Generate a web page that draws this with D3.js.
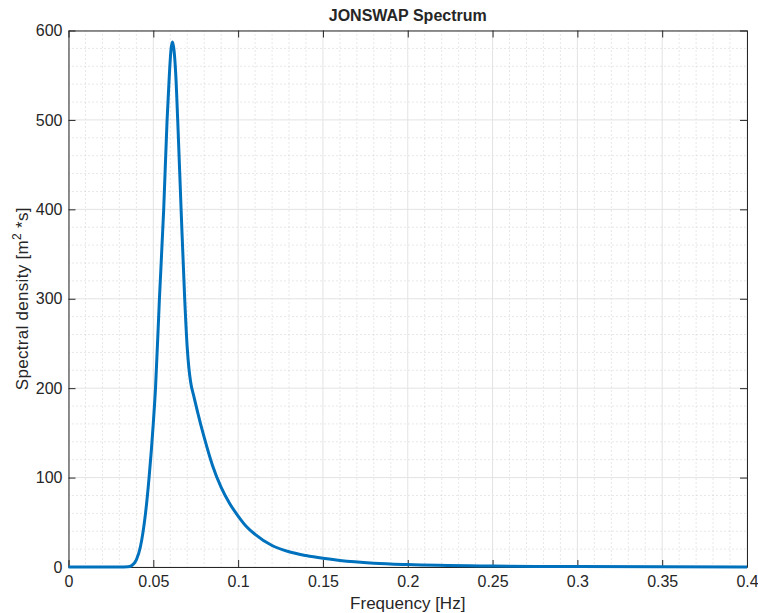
<!DOCTYPE html>
<html>
<head>
<meta charset="utf-8">
<script src="https://cdn.jsdelivr.net/npm/d3@7"></script>
<style>
  body { margin: 0; background: #fff; }
  svg text { font-family: "Liberation Sans", Arial, Helvetica, sans-serif; fill: #262626; }
</style>
</head>
<body>
<div id="chart"></div>
<script>
// values
var freq = [0, 0.01, 0.02, 0.03, 0.035, 0.0375, 0.040, 0.0424, 0.0454, 0.0475, 0.050, 0.0513, 0.0536,
  0.0561, 0.0581, 0.0595, 0.0604, 0.0613, 0.0622, 0.0632, 0.0644, 0.0664, 0.0685, 0.070, 0.071, 0.072,
  0.074, 0.076, 0.078, 0.080, 0.085, 0.090, 0.095, 0.100, 0.105, 0.110, 0.120, 0.130, 0.140, 0.150,
  0.160, 0.180, 0.200, 0.250, 0.300, 0.350, 0.400];
var density = [0, 0, 0, 0, 0.2, 2, 8, 22.7, 60, 100, 161, 200, 300,
  399, 499, 552, 578, 587, 578, 552, 499, 399, 300, 245, 222, 207,
  190, 174, 159, 145, 113, 89, 71, 57, 45, 36.5, 24, 17, 12.8, 9.7,
  7.3, 4.3, 2.7, 1, 0.45, 0.22, 0.12];

var xTicks = [0, 0.05, 0.1, 0.15, 0.2, 0.25, 0.3, 0.35, 0.4];
var xTickLabels = ["0", "0.05", "0.1", "0.15", "0.2", "0.25", "0.3", "0.35", "0.4"];
var yTicks = [0, 100, 200, 300, 400, 500, 600];

var svgWidth = 758;
var svgHeight = 613;

var margin = {top: 30.5, right: 11, bottom: 46, left: 68.5};
var width = svgWidth - margin.left - margin.right;
var height = svgHeight - margin.top - margin.bottom;

var svg = d3.select("#chart")
  .append("svg")
  .attr("width", svgWidth)
  .attr("height", svgHeight);

var chartGroup = svg.append("g")
  .attr("transform", `translate(${margin.left}, ${margin.top})`);

var xScale = d3.scaleLinear().domain([0, 0.4]).range([0, width]);
var yScale = d3.scaleLinear().domain([0, 600]).range([height, 0]);

// minor grid (dotted)
var xMinor = d3.range(0, 41).map(d => d / 100).filter((d, i) => i % 5 !== 0);
var yMinor = d3.range(0, 601, 20).filter(d => d % 100 !== 0);

chartGroup.append("g")
  .selectAll("line")
  .data(xMinor)
  .enter()
  .append("line")
  .attr("x1", d => xScale(d)).attr("x2", d => xScale(d))
  .attr("y1", 0).attr("y2", height)
  .attr("stroke", "#d0d0d0")
  .attr("stroke-width", 1)
  .attr("stroke-dasharray", "1,3");

chartGroup.append("g")
  .selectAll("line")
  .data(yMinor)
  .enter()
  .append("line")
  .attr("y1", d => yScale(d)).attr("y2", d => yScale(d))
  .attr("x1", 0).attr("x2", width)
  .attr("stroke", "#d0d0d0")
  .attr("stroke-width", 1)
  .attr("stroke-dasharray", "1,3");

// major grid
chartGroup.append("g")
  .selectAll("line")
  .data(xTicks)
  .enter()
  .append("line")
  .attr("x1", d => xScale(d)).attr("x2", d => xScale(d))
  .attr("y1", 0).attr("y2", height)
  .attr("stroke", "#e3e3e3")
  .attr("stroke-width", 1);

chartGroup.append("g")
  .selectAll("line")
  .data(yTicks)
  .enter()
  .append("line")
  .attr("y1", d => yScale(d)).attr("y2", d => yScale(d))
  .attr("x1", 0).attr("x2", width)
  .attr("stroke", "#e3e3e3")
  .attr("stroke-width", 1);

// axes with inward ticks
var bottomAxis = d3.axisBottom(xScale).tickValues(xTicks)
  .tickFormat((d, i) => xTickLabels[i]).tickSizeInner(-7).tickSizeOuter(0).tickPadding(9);
var topAxis = d3.axisTop(xScale).tickValues(xTicks).tickFormat("").tickSizeInner(-7).tickSizeOuter(0);
var leftAxis = d3.axisLeft(yScale).tickValues(yTicks).tickSizeInner(-7).tickSizeOuter(0).tickPadding(6);
var rightAxis = d3.axisRight(yScale).tickValues(yTicks).tickFormat("").tickSizeInner(-7).tickSizeOuter(0);

function styleAxis(g) {
  g.selectAll("path").attr("stroke", "#262626").attr("stroke-width", 1);
  g.selectAll("line").attr("stroke", "#262626").attr("stroke-width", 1);
  g.selectAll("text").attr("font-size", "16px").attr("fill", "#262626")
    .attr("font-family", "Liberation Sans, Arial, sans-serif");
}

chartGroup.append("g").attr("transform", `translate(0, ${height})`).call(bottomAxis).call(styleAxis);
chartGroup.append("g").call(topAxis).call(styleAxis);
chartGroup.append("g").call(leftAxis).call(styleAxis);
chartGroup.append("g").attr("transform", `translate(${width}, 0)`).call(rightAxis).call(styleAxis);

// spectrum line
var line = d3.line()
  .x((d, i) => xScale(freq[i]))
  .y(d => yScale(d))
  .curve(d3.curveMonotoneX);

chartGroup.append("path")
  .datum(density)
  .attr("fill", "none")
  .attr("stroke", "#0072BD")
  .attr("stroke-width", 3)
  .attr("stroke-linejoin", "round")
  .attr("d", line);

// title and labels
svg.append("text")
  .attr("x", margin.left + width / 2)
  .attr("y", 21)
  .attr("text-anchor", "middle")
  .attr("font-size", "16px")
  .attr("font-weight", "bold")
  .attr("fill", "#000")
  .text("JONSWAP Spectrum");

svg.append("text")
  .attr("x", margin.left + width / 2)
  .attr("y", 609)
  .attr("text-anchor", "middle")
  .attr("font-size", "17px")
  .text("Frequency [Hz]");

var yLabel = svg.append("text")
  .attr("transform", `translate(28, ${margin.top + height / 2}) rotate(-90)`)
  .attr("text-anchor", "middle")
  .attr("font-size", "17px")
  .attr("letter-spacing", "0.3px");
yLabel.append("tspan").text("Spectral density [m");
yLabel.append("tspan").attr("dy", -7).attr("font-size", "12px").text("2");
yLabel.append("tspan").attr("dy", 7).text(" *s]");
</script>
</body>
</html>
